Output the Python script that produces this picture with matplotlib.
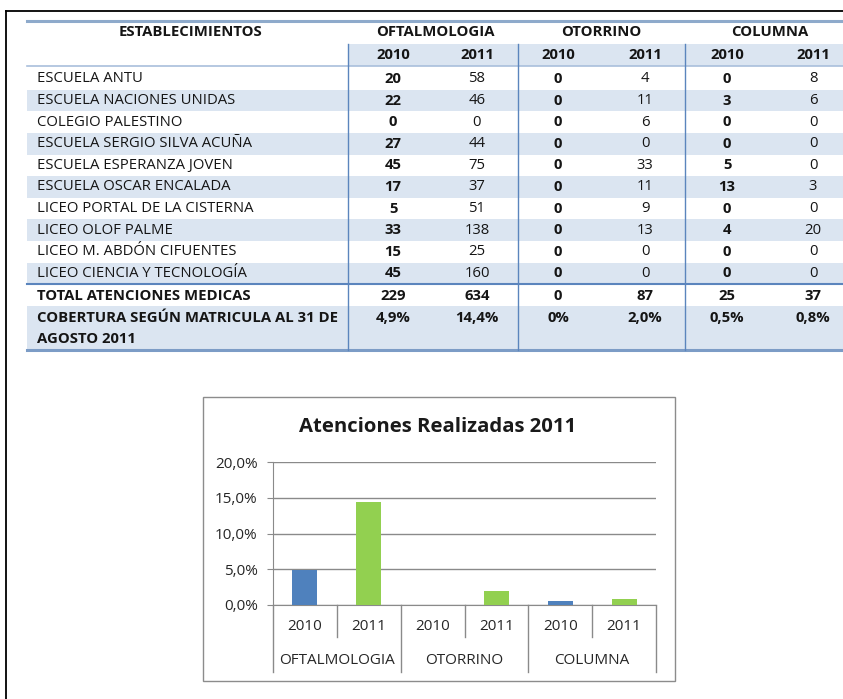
import numpy as np
import matplotlib.pyplot as plt
from matplotlib.patches import Rectangle
from matplotlib.lines import Line2D
import matplotlib.transforms as mtransforms

plt.rcParams['font.family'] = ['Open Sans', 'DejaVu Sans']

W, H = 843, 699

# datos de la tabla
establecimientos = [
    'ESCUELA ANTU',
    'ESCUELA NACIONES UNIDAS',
    'COLEGIO PALESTINO',
    'ESCUELA SERGIO SILVA ACUÑA',
    'ESCUELA ESPERANZA JOVEN',
    'ESCUELA OSCAR ENCALADA',
    'LICEO PORTAL DE LA CISTERNA',
    'LICEO OLOF PALME',
    'LICEO M. ABDÓN CIFUENTES',
    'LICEO CIENCIA Y TECNOLOGÍA',
]
oftal_2010 = [20, 22, 0, 27, 45, 17, 5, 33, 15, 45]
oftal_2011 = [58, 46, 0, 44, 75, 37, 51, 138, 25, 160]
oto_2010 = [0, 0, 0, 0, 0, 0, 0, 0, 0, 0]
oto_2011 = [4, 11, 6, 0, 33, 11, 9, 13, 0, 0]
col_2010 = [0, 3, 0, 0, 5, 13, 0, 4, 0, 0]
col_2011 = [8, 6, 0, 0, 0, 3, 0, 20, 0, 0]
totales = [229, 634, 0, 87, 25, 37]
cobertura_txt = ['4,9%', '14,4%', '0%', '2,0%', '0,5%', '0,8%']

especialidades = ['OFTALMOLOGIA', 'OTORRINO', 'COLUMNA']
anios = ['2010', '2011']

# datos del grafico (cobertura %)
cobertura = [4.9, 14.4, 0.0, 2.0, 0.5, 0.8]
colores_anio = {'2010': '#4f81bd', '2011': '#92d050'}


def fx(x):
    return x / W


def fy(y):
    return 1 - y / H


fig = plt.figure(figsize=(W / 100, H / 100), dpi=100)
fig.patch.set_facecolor('white')

txt_color = '#151515'
shade = '#dbe5f1'


def hline(x0, x1, y, color, lw):
    fig.add_artist(Line2D([fx(x0), fx(x1)], [fy(y), fy(y)], color=color, lw=lw))


def vline(x, y0, y1, color, lw):
    fig.add_artist(Line2D([fx(x), fx(x)], [fy(y0), fy(y1)], color=color, lw=lw))


def rect(x0, y0, x1, y1, color):
    fig.add_artist(Rectangle((fx(x0), fy(y1)), fx(x1) - fx(x0), (y1 - y0) / H,
                             facecolor=color, edgecolor='none', zorder=-2))


def ftext(x, y, s, ha='center', bold=False, size=10.7, color=txt_color):
    fig.text(fx(x), fy(y), s, ha=ha, va='center', fontsize=size,
             fontweight='bold' if bold else 'normal', color=color)


# marco de la pagina
hline(6, W, 11, 'black', 1.3)
vline(6, 11, H, 'black', 1.3)

# ---- tabla ----
col_x = [393, 477, 558, 645, 727, 813]
sep_x = [348, 518, 685]
row0, step = 79, 21.6
n = len(establecimientos)
row_y = [row0 + i * step for i in range(n)]

# sombreado de filas alternas
rect(348, 44, W, 66, shade)
for i, y in enumerate(row_y):
    if i % 2 == 1:
        rect(27, y - step / 2, W, y + step / 2, shade)
y_tot = 296
y_cob = 318
rect(27, 306, W, 350, shade)

hline(27, W, 21, '#8eaacb', 2.2)
hline(27, W, 66, '#a9bfdc', 1.2)
hline(27, W, 284, '#5b85bd', 1.5)
hline(27, W, 350, '#7c9cc6', 2.2)
for x in sep_x:
    vline(x, 44, 350, '#5b85bd', 1.0)

ftext(190, 32, 'ESTABLECIMIENTOS', bold=True)
for k, esp in enumerate(especialidades):
    ftext((col_x[2 * k] + col_x[2 * k + 1]) / 2, 32, esp, bold=True)
for j, x in enumerate(col_x):
    ftext(x, 55, anios[j % 2], bold=True)

valores = [oftal_2010, oftal_2011, oto_2010, oto_2011, col_2010, col_2011]
for i, y in enumerate(row_y):
    ftext(37, y, establecimientos[i], ha='left')
    for j, x in enumerate(col_x):
        ftext(x, y, str(valores[j][i]), bold=(j % 2 == 0))

ftext(37, y_tot, 'TOTAL ATENCIONES MEDICAS', ha='left', bold=True)
ftext(37, y_cob, 'COBERTURA SEGÚN MATRICULA AL 31 DE', ha='left', bold=True)
ftext(37, 339, 'AGOSTO 2011', ha='left', bold=True)
for j, x in enumerate(col_x):
    ftext(x, y_tot, str(totales[j]), bold=True)
    ftext(x, y_cob, cobertura_txt[j], bold=True)

# ---- grafico ----
fig.add_artist(Rectangle((fx(203), fy(681)), fx(675) - fx(203), (681 - 397) / H,
                         facecolor='none', edgecolor='#8c8c8c', lw=1.0))
fig.text(fx(438), fy(427), 'Atenciones Realizadas 2011', ha='center', va='center',
         fontsize=14.6, fontweight='bold', color='#1a1a1a')

ax_top, ax_bot, ax_l, ax_r = 462, 605, 273, 656
ax = fig.add_axes([fx(ax_l), fy(ax_bot), (ax_r - ax_l) / W, (ax_bot - ax_top) / H])
ax.set_facecolor('none')

etiquetas = [a for esp in especialidades for a in anios]
xs = np.arange(len(cobertura))
ax.bar(xs, cobertura, width=0.39, color=[colores_anio[a] for a in etiquetas], zorder=3)

ax.set_xlim(-0.5, len(cobertura) - 0.5)
ax.set_ylim(0, 20)
ax.set_yticks([0, 5, 10, 15, 20])
ax.set_yticklabels(['{:.1f}%'.format(v).replace('.', ',') for v in [0, 5, 10, 15, 20]])
ax.yaxis.grid(True, color='#8a8a8a', lw=1.0)
ax.set_axisbelow(True)
ax.tick_params(axis='y', length=4, color='#8a8a8a', pad=7, labelsize=11, labelcolor='#262626')
ax.tick_params(axis='x', length=0, labelbottom=False)
for s in ['top', 'right']:
    ax.spines[s].set_visible(False)
ax.spines['left'].set_color('#8a8a8a')
ax.spines['bottom'].set_color('#8a8a8a')

tr = mtransforms.blended_transform_factory(ax.transData, ax.transAxes)
h_ax = ax_bot - ax_top
corto = -(637 - ax_bot) / h_ax
largo = -(672 - ax_bot) / h_ax
for x in [0.5, 2.5, 4.5]:
    ax.add_line(Line2D([x, x], [0, corto], transform=tr, color='#8a8a8a', lw=1.0, clip_on=False))
for x in [-0.5, 1.5, 3.5, 5.5]:
    ax.add_line(Line2D([x, x], [0, largo], transform=tr, color='#8a8a8a', lw=1.0, clip_on=False))

y_anio = -(627 - ax_bot) / h_ax
y_grupo = -(661 - ax_bot) / h_ax
for x, a in zip(xs, etiquetas):
    ax.text(x, y_anio, a, transform=tr, ha='center', va='center', fontsize=11, color='#262626')
for k, esp in enumerate(especialidades):
    ax.text(2 * k + 0.5, y_grupo, esp, transform=tr, ha='center', va='center',
            fontsize=11, color='#262626')

fig.savefig('out.png', dpi=100)
